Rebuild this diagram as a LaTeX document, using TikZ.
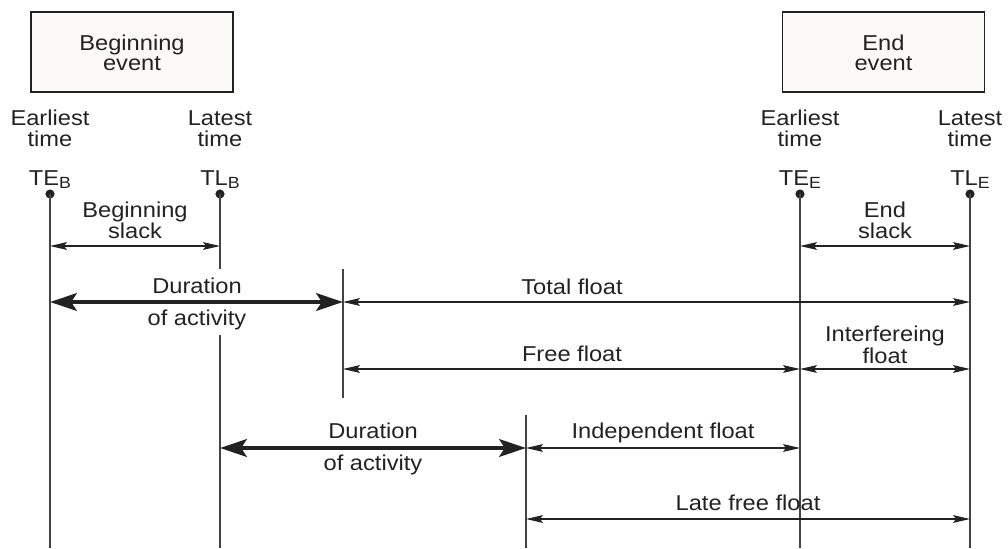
\documentclass[tikz,border=0pt]{standalone}
\usepackage{fontspec}
\setmainfont{Liberation Sans}[FakeStretch=1.1]
\usetikzlibrary{arrows.meta}
\definecolor{ink}{HTML}{222222}
\definecolor{boxfill}{HTML}{FCFAF7}
\newcommand{\lowsub}[1]{\raisebox{-0.3ex}{\fontsize{11.5}{11.5}\selectfont #1}}
\begin{document}
\begin{tikzpicture}[x=0.025cm,y=-0.025cm,
  txt/.style={anchor=base,inner sep=0pt,text=ink,font=\fontsize{15.3}{15.3}\selectfont},
  evbox/.style={draw=ink,fill=boxfill,line width=0.8pt,minimum width=202*0.025cm,minimum height=80*0.025cm,inner sep=0pt},
  vline/.style={draw=ink!85,line width=0.9pt},
  dot/.style={circle,fill=ink,inner sep=0pt,minimum size=6.5pt},
  thin/.style={draw=ink,line width=0.8pt,{Stealth[length=12pt,width=5.5pt,inset=2pt]}-{Stealth[length=12pt,width=5.5pt,inset=2pt]}},
  thick/.style={draw=ink,line width=2.8pt,{Stealth[length=19pt,width=12.5pt,inset=4pt]}-{Stealth[length=19pt,width=12.5pt,inset=4pt]}}
]
\useasboundingbox (0,0) rectangle (1008,548);
% event boxes
\node[evbox] (bev) at (132,52) {};
\node[txt] (bevt1) at (132,50) {Beginning};
\node[txt] (bevt2) at (132,70) {event};
\node[evbox] (eev) at (883.5,52) {};
\node[txt] (eevt1) at (883.5,50) {End};
\node[txt] (eevt2) at (883.5,70) {event};
% headings
\node[txt] (h1a) at (50,125) {Earliest};
\node[txt] (h1b) at (50,146) {time};
\node[txt] (h2a) at (220,125) {Latest};
\node[txt] (h2b) at (220,146) {time};
\node[txt] (h3a) at (800,125) {Earliest};
\node[txt] (h3b) at (800,146) {time};
\node[txt] (h4a) at (970,125) {Latest};
\node[txt] (h4b) at (970,146) {time};
\node[txt] (teb) at (50,185) {TE\lowsub{B}};
\node[txt] (tlb) at (220,185) {TL\lowsub{B}};
\node[txt] (tee) at (800,185) {TE\lowsub{E}};
\node[txt] (tle) at (970,185) {TL\lowsub{E}};
% dots
\node[dot] (d1) at (50,194) {};
\node[dot] (d2) at (220,194) {};
\node[dot] (d3) at (800,194) {};
\node[dot] (d4) at (970,194) {};
% vertical line ends
\coordinate (b1) at (50,548);
\coordinate (b2t) at (220,269);
\coordinate (b2s) at (220,335);
\coordinate (b2) at (220,548);
\coordinate (b3) at (800,548);
\coordinate (b4) at (970,548);
\coordinate (m1t) at (343,269);
\coordinate (m1b) at (343,398);
\coordinate (m2t) at (526,415);
\coordinate (m2b) at (526,548);
\draw[vline] (d1.center) -- (b1);
\draw[vline] (d2.center) -- (b2t);
\draw[vline] (b2s) -- (b2);
\draw[vline] (d3.center) -- (b3);
\draw[vline] (d4.center) -- (b4);
\draw[vline] (m1t) -- (m1b);
\draw[vline] (m2t) -- (m2b);
% arrow end points
\coordinate (s1) at (50,246);  \coordinate (s2) at (220,246);
\coordinate (e1) at (800,246); \coordinate (e2) at (970,246);
\coordinate (da1) at (50,302); \coordinate (da2) at (343,302);
\coordinate (tf2) at (970,302);
\coordinate (ff1) at (343,369); \coordinate (ff2) at (800,369);
\coordinate (if2) at (970,369);
\coordinate (db1) at (220,448); \coordinate (db2) at (526,448);
\coordinate (in2) at (800,448);
\coordinate (lf1) at (526,519); \coordinate (lf2) at (970,519);
% arrows
\draw[thin] (s1) -- (s2);
\draw[thin] (e1) -- (e2);
\draw[thick] (da1) -- (da2);
\draw[thin] (da2) -- (tf2);
\draw[thin] (ff1) -- (ff2);
\draw[thin] (ff2) -- (if2);
\draw[thick] (db1) -- (db2);
\draw[thin] (db2) -- (in2);
\draw[thin] (lf1) -- (lf2);
% labels
\node[txt] (l1a) at (135,217) {Beginning};
\node[txt] (l1b) at (135,238) {slack};
\node[txt] (l2a) at (885,217) {End};
\node[txt] (l2b) at (885,238) {slack};
\node[txt] (l3a) at (197,293) {Duration};
\node[txt] (l3b) at (197,325) {of activity};
\node[txt] (l4) at (572,294) {Total float};
\node[txt] (l5) at (572,361) {Free float};
\node[txt] (l6a) at (885,341) {Interfereing};
\node[txt] (l6b) at (885,363) {float};
\node[txt] (l7a) at (373,438) {Duration};
\node[txt] (l7b) at (373,470) {of activity};
\node[txt] (l8) at (663,438) {Independent float};
\node[txt] (l9) at (748,510) {Late free float};
\end{tikzpicture}
\end{document}
